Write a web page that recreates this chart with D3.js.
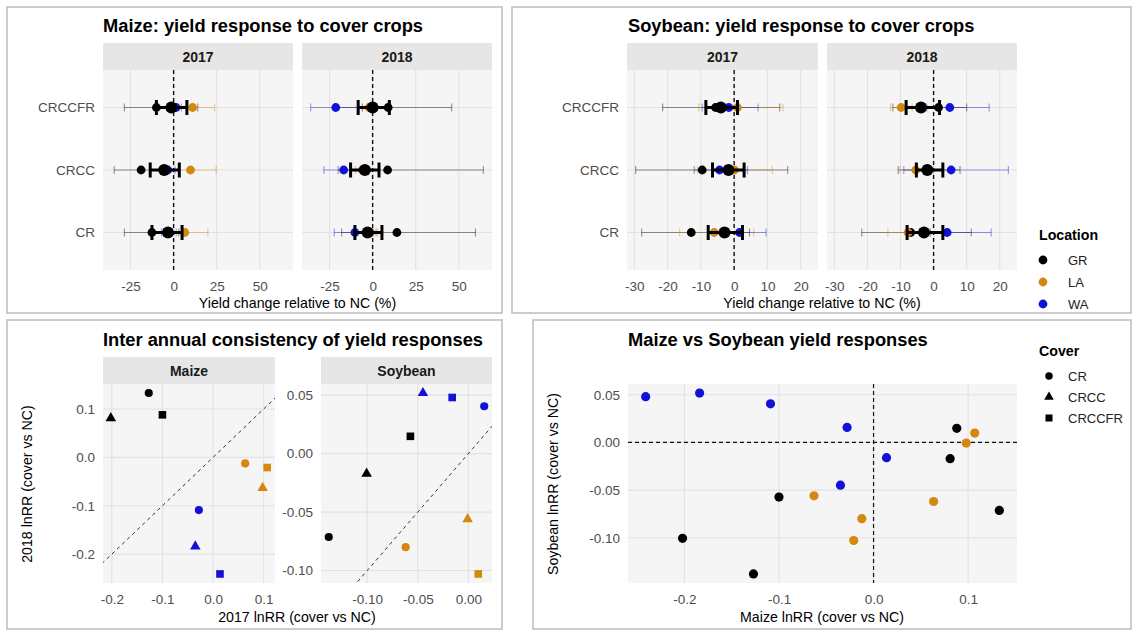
<!DOCTYPE html>
<html>
<head>
<meta charset="utf-8">
<script src="https://cdn.jsdelivr.net/npm/d3@7"></script>
<style>
  body { margin: 0; background: #fff; }
  svg { display: block; font-family: "Liberation Sans", Arial, sans-serif; }
</style>
</head>
<body>
<svg id="fig" width="1132" height="631"></svg>
<script>
// ---------------- data ----------------
const covers = ["CR", "CRCC", "CRCCFR"];
const locations = ["GR", "LA", "WA"];
const locationColors = ["#000000", "#d4880f", "#1212d6"];
const years = ["2017", "2018"];

// Yield change relative to NC (%): [estimate, lower, upper] for CR, CRCC, CRCCFR
const maize2017GR = [[-12.6, -28.6, 3.0], [-18.9, -34.5, -3.0], [-10.0, -28.6, 14.0]];
const maize2017LA = [[6.5, -3.0, 19.9], [9.8, -4.0, 24.7], [11.0, 3.0, 23.8]];
const maize2017WA = [[-2.8, -7.0, 1.5], [-3.4, -7.5, 0.8], [1.4, -2.0, 4.5]];
const maize2017Mean = [[-3.3, -12.6, 4.9], [-5.5, -13.6, 3.3], [-1.3, -10.0, 7.7]];

const maize2018GR = [[14.1, -18.0, 59.7], [8.7, -20.0, 64.3], [9.0, -22.0, 45.9]];
const maize2018LA = [[-1.2, -5.0, 3.0], [-6.1, -10.0, -2.0], [-2.1, -6.0, 2.0]];
const maize2018WA = [[-10.3, -22.3, 2.0], [-16.8, -28.3, -4.0], [-21.4, -36.0, -6.0]];
const maize2018Mean = [[-2.9, -10.3, 5.4], [-4.5, -12.8, 3.7], [0.0, -8.4, 9.7]];

const soy2017GR = [[-12.9, -27.8, 4.6], [-9.6, -29.6, 16.1], [-5.6, -21.5, 13.7]];
const soy2017LA = [[-6.0, -16.4, 5.9], [0.1, -11.0, 11.5], [1.0, -10.6, 14.7]];
const soy2017WA = [[1.6, -3.0, 9.6], [-4.4, -12.0, 4.0], [-1.6, -9.6, 7.2]];
const soy2017Mean = [[-2.9, -7.8, 2.5], [-1.7, -6.5, 3.0], [-4.0, -8.5, 1.0]];

const soy2018GR = [[-6.9, -21.7, 11.4], [-1.7, -10.7, 8.0], [1.5, -12.3, 10.0]];
const soy2018LA = [[-7.7, -13.8, -1.0], [-5.4, -10.1, 0.0], [-9.8, -13.0, -6.5]];
const soy2018WA = [[4.1, -1.0, 17.4], [5.3, -9.0, 22.6], [4.9, -2.0, 16.8]];
const soy2018Mean = [[-2.9, -8.0, 2.8], [-1.9, -5.2, 2.8], [-3.8, -8.3, 1.8]];

// ln response ratios (cover vs NC), rows = CR, CRCC, CRCCFR; cols = GR, LA, WA
const maizeLnRR2017 = [[-0.127, 0.0635, -0.028], [-0.202, 0.098, -0.035], [-0.100, 0.107, 0.0137]];
const maizeLnRR2018 = [[0.133, -0.0124, -0.109], [0.081, -0.063, -0.184], [0.088, -0.021, -0.241]];
const soyLnRR2017 = [[-0.138, -0.062, 0.0157], [-0.1006, -0.0007, -0.0449], [-0.0573, 0.0098, -0.016]];
const soyLnRR2018 = [[-0.0713, -0.080, 0.0405], [-0.0171, -0.056, 0.0518], [0.0148, -0.1029, 0.048]];

// tick values
const maizePctTicks = [-25, 0, 25, 50];
const soyPctTicks = [-30, -20, -10, 0, 10, 20];
const maizeLnTicks = [-0.2, -0.1, 0.0, 0.1];
const soyLnXTicks = [-0.10, -0.05, 0.00];
const soyLnYTicks = [-0.10, -0.05, 0.00, 0.05];
const scatterXTicks = [-0.2, -0.1, 0.0, 0.1];
const scatterYTicks = [-0.10, -0.05, 0.00, 0.05];

// ---------------- helpers ----------------
const svg = d3.select("#fig");
const PANEL_BG = "#f5f5f5", GRID = "#e2e2e2", STRIP_BG = "#e6e6e6";
const TICK_COLOR = "#4d4d4d";
const shapeTypes = [d3.symbolCircle, d3.symbolTriangle, d3.symbolSquare];
const shapeSizes = [52, 48, 58];

function expand(lo, hi) { const d = (hi - lo) * 0.05; return [lo - d, hi + d]; }
function fmt(dec) {
  return v => (v < -1e-9 ? "-" : "") + Math.abs(v).toFixed(dec);
}
function frame(x0, y0, x1, y1) {
  svg.append("rect").attr("x", x0).attr("y", y0).attr("width", x1 - x0).attr("height", y1 - y0)
    .attr("fill", "none").attr("stroke", "#bcbcbc").attr("stroke-width", 1.5);
}
function plotTitle(x, y, text) {
  svg.append("text").attr("x", x).attr("y", y).attr("font-size", 18.3).attr("font-weight", "bold")
    .attr("fill", "#000").text(text);
}
function strip(x0, x1, y0, y1, text) {
  svg.append("rect").attr("x", x0).attr("y", y0).attr("width", x1 - x0).attr("height", y1 - y0).attr("fill", STRIP_BG);
  svg.append("text").attr("x", (x0 + x1) / 2).attr("y", (y0 + y1) / 2).attr("dy", "0.36em")
    .attr("text-anchor", "middle").attr("font-size", 14).attr("font-weight", "bold").attr("fill", "#1a1a1a").text(text);
}
function panel(x0, x1, y0, y1) {
  svg.append("rect").attr("x", x0).attr("y", y0).attr("width", x1 - x0).attr("height", y1 - y0).attr("fill", PANEL_BG);
}
function styleAxis(g) {
  g.select(".domain").remove();
  g.attr("font-family", null).attr("font-size", 13.5);
  g.selectAll("text").attr("fill", TICK_COLOR);
}
function vGrid(x, ticks, y0, y1) {
  svg.append("g").selectAll("line").data(ticks).join("line")
    .attr("x1", d => x(d)).attr("x2", d => x(d)).attr("y1", y0).attr("y2", y1)
    .attr("stroke", GRID).attr("stroke-width", 1.1);
}
function hGrid(y, ticks, x0, x1) {
  svg.append("g").selectAll("line").data(ticks).join("line")
    .attr("y1", d => y(d)).attr("y2", d => y(d)).attr("x1", x0).attr("x2", x1)
    .attr("stroke", GRID).attr("stroke-width", 1.1);
}
function axisTitleX(x, y, text) {
  svg.append("text").attr("x", x).attr("y", y).attr("text-anchor", "middle").attr("font-size", 14.2)
    .attr("fill", "#000").text(text);
}
function axisTitleY(x, y, text) {
  svg.append("text").attr("transform", `translate(${x},${y}) rotate(-90)`).attr("text-anchor", "middle")
    .attr("dy", "0.35em").attr("font-size", 14.2).attr("fill", "#000").text(text);
}

// ---------------- forest plots (top row) ----------------
function forestPlot(p) {
  const [py0, py1] = p.panelY;
  const y = d3.scalePoint().domain(covers.slice().reverse()).range([py0, py1]).padding(0.6);
  p.facets.forEach(([fx0, fx1], i) => {
    const x = d3.scaleLinear().domain(p.domain).range([fx0, fx1]);
    const yd = p.data[i];
    panel(fx0, fx1, py0, py1);
    vGrid(x, p.ticks, py0, py1);
    hGrid(y, covers, fx0, fx1);
    strip(fx0, fx1, p.stripY[0], p.stripY[1], years[i]);

    const ax = svg.append("g").attr("transform", `translate(0,${py1})`)
      .call(d3.axisBottom(x).tickValues(p.ticks).tickSize(0).tickPadding(11).tickFormat(fmt(0)));
    styleAxis(ax);
    if (i === 0) {
      const ay = svg.append("g").attr("transform", `translate(${fx0},0)`)
        .call(d3.axisLeft(y).tickSize(0).tickPadding(8));
      styleAxis(ay);
    }

    svg.append("line").attr("x1", x(0)).attr("x2", x(0)).attr("y1", py0).attr("y2", py1)
      .attr("stroke", "#111").attr("stroke-width", 1.4).attr("stroke-dasharray", "4,3");

    // per-location intervals
    yd.locs.forEach((arr, li) => {
      const g = svg.append("g").attr("stroke", locationColors[li]).attr("stroke-opacity", 0.42).attr("stroke-width", 1.1);
      arr.forEach((d, ci) => {
        const yy = y(covers[ci]);
        g.append("line").attr("x1", x(d[1])).attr("x2", x(d[2])).attr("y1", yy).attr("y2", yy);
        [d[1], d[2]].forEach(v => g.append("line").attr("x1", x(v)).attr("x2", x(v)).attr("y1", yy - 4).attr("y2", yy + 4));
      });
    });
    // per-location estimates
    yd.locs.forEach((arr, li) => {
      svg.append("g").selectAll("circle").data(arr).join("circle")
        .attr("cx", d => x(d[0])).attr("cy", (d, ci) => y(covers[ci])).attr("r", 4.4)
        .attr("fill", locationColors[li]);
    });
    // overall mean with interval
    const gm = svg.append("g").attr("stroke", "#000").attr("stroke-width", 3);
    yd.mean.forEach((d, ci) => {
      const yy = y(covers[ci]);
      gm.append("line").attr("x1", x(d[1])).attr("x2", x(d[2])).attr("y1", yy).attr("y2", yy);
      [d[1], d[2]].forEach(v => gm.append("line").attr("x1", x(v)).attr("x2", x(v)).attr("y1", yy - 7.5).attr("y2", yy + 7.5));
    });
    svg.append("g").selectAll("circle").data(yd.mean).join("circle")
      .attr("cx", d => x(d[0])).attr("cy", (d, ci) => y(covers[ci])).attr("r", 6).attr("fill", "#000");
  });
}

function pctDomain(sets) {
  const vals = sets.flat().flatMap(d => [d[1], d[2]]);
  return expand(d3.min(vals), d3.max(vals));
}

// Maize
frame(7, 7, 502, 313);
plotTitle(103, 32, "Maize: yield response to cover crops");
forestPlot({
  facets: [[103, 293], [302, 492]], panelY: [70, 270], stripY: [43, 70],
  ticks: maizePctTicks,
  domain: pctDomain([maize2017GR, maize2017LA, maize2017WA, maize2018GR, maize2018LA, maize2018WA]),
  data: [
    { locs: [maize2017GR, maize2017LA, maize2017WA], mean: maize2017Mean },
    { locs: [maize2018GR, maize2018LA, maize2018WA], mean: maize2018Mean }
  ]
});
axisTitleX(297.5, 308, "Yield change relative to NC (%)");

// Soybean
frame(512, 7, 1131, 313);
plotTitle(628, 32, "Soybean: yield response to cover crops");
forestPlot({
  facets: [[627, 818], [827, 1017]], panelY: [70, 270], stripY: [43, 70],
  ticks: soyPctTicks,
  domain: pctDomain([soy2017GR, soy2017LA, soy2017WA, soy2018GR, soy2018LA, soy2018WA]),
  data: [
    { locs: [soy2017GR, soy2017LA, soy2017WA], mean: soy2017Mean },
    { locs: [soy2018GR, soy2018LA, soy2018WA], mean: soy2018Mean }
  ]
});
axisTitleX(822, 308, "Yield change relative to NC (%)");

// Location legend
svg.append("text").attr("x", 1039).attr("y", 240).attr("font-size", 14.2).attr("font-weight", "bold").text("Location");
locations.forEach((loc, i) => {
  const yy = 260 + i * 22;
  svg.append("circle").attr("cx", 1043).attr("cy", yy).attr("r", 4.4).attr("fill", locationColors[i]);
  svg.append("text").attr("x", 1068).attr("y", yy).attr("dy", "0.36em").attr("font-size", 13).attr("fill", "#222").text(loc);
});

// ---------------- inter-annual consistency (bottom left) ----------------
frame(7, 320, 502, 629);
plotTitle(103, 346, "Inter annual consistency of yield responses");
{
  const py0 = 384, py1 = 583;
  const crops = [
    { name: "Maize", v17: maizeLnRR2017, v18: maizeLnRR2018, xt: maizeLnTicks, yt: maizeLnTicks, dec: 1, fx: [103, 275] },
    { name: "Soybean", v17: soyLnRR2017, v18: soyLnRR2018, xt: soyLnXTicks, yt: soyLnYTicks, dec: 2, fx: [321, 492] }
  ];
  crops.forEach((c, k) => {
    const [fx0, fx1] = c.fx;
    const x = d3.scaleLinear().domain(expand(d3.min(c.v17.flat()), d3.max(c.v17.flat()))).range([fx0, fx1]);
    const y = d3.scaleLinear().domain(expand(d3.min(c.v18.flat()), d3.max(c.v18.flat()))).range([py1, py0]);
    panel(fx0, fx1, py0, py1);
    vGrid(x, c.xt, py0, py1);
    hGrid(y, c.yt, fx0, fx1);
    strip(fx0, fx1, 357, 384, c.name);
    const ax = svg.append("g").attr("transform", `translate(0,${py1})`)
      .call(d3.axisBottom(x).tickValues(c.xt).tickSize(0).tickPadding(11).tickFormat(fmt(c.dec)));
    styleAxis(ax);
    const ay = svg.append("g").attr("transform", `translate(${fx0},0)`)
      .call(d3.axisLeft(y).tickValues(c.yt).tickSize(0).tickPadding(8).tickFormat(fmt(c.dec)));
    styleAxis(ay);

    // 1:1 line
    const clipId = "clip" + k;
    svg.append("clipPath").attr("id", clipId).append("rect")
      .attr("x", fx0).attr("y", py0).attr("width", fx1 - fx0).attr("height", py1 - py0);
    const lo = Math.min(x.domain()[0], y.domain()[0]), hi = Math.max(x.domain()[1], y.domain()[1]);
    svg.append("line").attr("clip-path", `url(#${clipId})`)
      .attr("x1", x(lo)).attr("y1", y(lo)).attr("x2", x(hi)).attr("y2", y(hi))
      .attr("stroke", "#333").attr("stroke-width", 1).attr("stroke-dasharray", "3.5,3.5");

    const pts = [];
    covers.forEach((cv, ci) => locations.forEach((loc, li) => pts.push({ ci, li, a: c.v17[ci][li], b: c.v18[ci][li] })));
    svg.append("g").selectAll("path").data(pts).join("path")
      .attr("transform", d => `translate(${x(d.a)},${y(d.b)})`)
      .attr("d", d => d3.symbol().type(shapeTypes[d.ci]).size(shapeSizes[d.ci])())
      .attr("fill", d => locationColors[d.li]);
  });
  axisTitleX(297, 622, "2017 lnRR (cover vs NC)");
  axisTitleY(27, 484, "2018 lnRR (cover vs NC)");
}

// ---------------- maize vs soybean (bottom right) ----------------
frame(533, 320, 1131, 629);
plotTitle(628, 346, "Maize vs Soybean yield responses");
{
  const px0 = 628, px1 = 1017, py0 = 384, py1 = 583;
  const pts = [];
  [[maizeLnRR2017, soyLnRR2017], [maizeLnRR2018, soyLnRR2018]].forEach(([m, s]) =>
    covers.forEach((cv, ci) => locations.forEach((loc, li) => pts.push({ li, mx: m[ci][li], sy: s[ci][li] }))));
  const x = d3.scaleLinear().domain(expand(d3.min(pts, d => d.mx), d3.max(pts, d => d.mx))).range([px0, px1]);
  const y = d3.scaleLinear().domain(expand(d3.min(pts, d => d.sy), d3.max(pts, d => d.sy))).range([py1, py0]);
  panel(px0, px1, py0, py1);
  vGrid(x, scatterXTicks, py0, py1);
  hGrid(y, scatterYTicks, px0, px1);
  const ax = svg.append("g").attr("transform", `translate(0,${py1})`)
    .call(d3.axisBottom(x).tickValues(scatterXTicks).tickSize(0).tickPadding(11).tickFormat(fmt(1)));
  styleAxis(ax);
  const ay = svg.append("g").attr("transform", `translate(${px0},0)`)
    .call(d3.axisLeft(y).tickValues(scatterYTicks).tickSize(0).tickPadding(8).tickFormat(fmt(2)));
  styleAxis(ay);
  svg.append("line").attr("x1", x(0)).attr("x2", x(0)).attr("y1", py0).attr("y2", py1)
    .attr("stroke", "#111").attr("stroke-width", 1.2).attr("stroke-dasharray", "4,3");
  svg.append("line").attr("x1", px0).attr("x2", px1).attr("y1", y(0)).attr("y2", y(0))
    .attr("stroke", "#111").attr("stroke-width", 1.2).attr("stroke-dasharray", "4,3");
  svg.append("g").selectAll("circle").data(pts).join("circle")
    .attr("cx", d => x(d.mx)).attr("cy", d => y(d.sy)).attr("r", 4.6).attr("fill", d => locationColors[d.li]);
  axisTitleX(822, 622, "Maize lnRR (cover vs NC)");
  axisTitleY(553, 484, "Soybean lnRR (cover vs NC)");
}

// Cover legend
svg.append("text").attr("x", 1039).attr("y", 356).attr("font-size", 14.2).attr("font-weight", "bold").text("Cover");
covers.forEach((cv, i) => {
  const yy = 376 + i * 21;
  svg.append("path").attr("transform", `translate(1049,${yy})`)
    .attr("d", d3.symbol().type(shapeTypes[i]).size(shapeSizes[i] * 0.85)()).attr("fill", "#000");
  svg.append("text").attr("x", 1068).attr("y", yy).attr("dy", "0.36em").attr("font-size", 13).attr("fill", "#222").text(cv);
});
</script>
</body>
</html>
